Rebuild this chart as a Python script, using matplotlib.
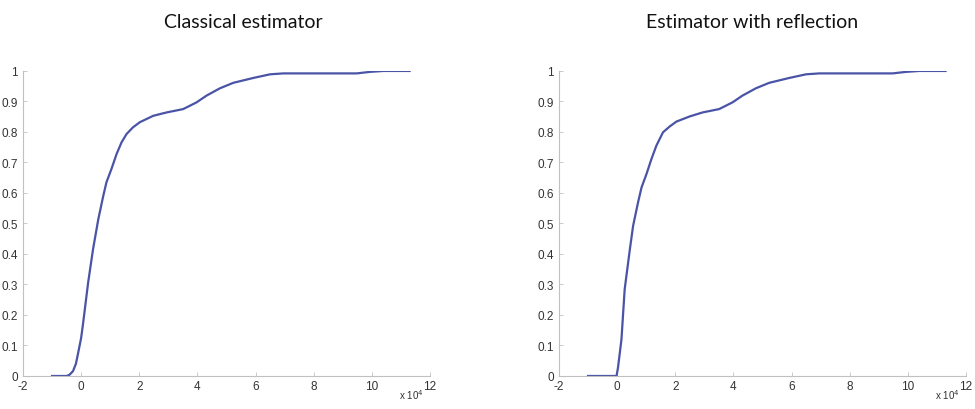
import numpy as np
import matplotlib
matplotlib.use("Agg")
import matplotlib.pyplot as plt

# x in units of 1e4, y = CDF estimate
x_classic = [-1.0, -0.5, -0.4, -0.28, -0.18, -0.1, 0.0, 0.07, 0.24, 0.41, 0.59, 0.76, 0.87, 1.04, 1.22,
             1.39, 1.56, 1.78, 2.02, 2.48, 2.94, 3.51, 3.97, 4.31, 4.77, 5.23, 5.92, 6.5,
             6.96, 9.48, 9.94, 10.4, 11.3]
y_classic = [0.0, 0.0, 0.004, 0.016, 0.04, 0.077, 0.125, 0.175, 0.306, 0.416, 0.514, 0.59, 0.635, 0.678, 0.728,
             0.766, 0.793, 0.815, 0.832, 0.853, 0.864, 0.875, 0.897, 0.919, 0.943, 0.961, 0.977, 0.989,
             0.992, 0.992, 0.997, 1.0, 1.0]

x_reflect = [-1.0, -0.02, 0.03, 0.15, 0.26, 0.44, 0.55, 0.72, 0.84, 1.01, 1.18, 1.35, 1.58,
             1.81, 2.04, 2.5, 2.94, 3.51, 3.97, 4.31, 4.77, 5.23, 5.92, 6.5, 6.96, 9.48, 9.94,
             10.4, 11.3]
y_reflect = [0.0, 0.0, 0.027, 0.12, 0.284, 0.416, 0.492, 0.569, 0.618, 0.662, 0.711, 0.755, 0.799,
             0.818, 0.834, 0.851, 0.864, 0.875, 0.897, 0.919, 0.943, 0.961, 0.977, 0.989, 0.992, 0.992, 0.997,
             1.0, 1.0]

titles = ["Classical estimator", "Estimator with reflection"]
xticks = [-2, 0, 2, 4, 6, 8, 10, 12]
yticks = [0, 0.1, 0.2, 0.3, 0.4, 0.5, 0.6, 0.7, 0.8, 0.9, 1]
ytick_labels = ["0", "0.1", "0.2", "0.3", "0.4", "0.5", "0.6", "0.7", "0.8", "0.9", "1"]

LINE = "#4a54a6"
AXC = "#c0c0c0"

fig = plt.figure(figsize=(9.75, 4.1), dpi=100)
axes_pos = [[0.0236, 0.0805, 0.4174, 0.744], [0.5733, 0.0805, 0.4174, 0.744]]
title_x = [243 / 975, 752 / 975]

for i, (xs, ys) in enumerate([(x_classic, y_classic), (x_reflect, y_reflect)]):
    ax = fig.add_axes(axes_pos[i])
    ax.plot(xs, ys, color=LINE, lw=1.6)
    ax.set_xlim(-2, 12)
    ax.set_ylim(0, 1)
    ax.set_xticks(xticks)
    ax.set_xticklabels([str(t) for t in xticks])
    ax.set_yticks(yticks)
    ax.set_yticklabels(ytick_labels)
    for s in ["top", "right"]:
        ax.spines[s].set_visible(False)
    for s in ["left", "bottom"]:
        ax.spines[s].set_color(AXC)
        ax.spines[s].set_linewidth(0.8)
    ax.tick_params(direction="in", length=3, width=0.6, color=AXC,
                   labelsize=8.5, labelcolor="#333333")
    ax.tick_params(axis="x", pad=3)
    ax.tick_params(axis="y", pad=3.5)
    for lab in ax.get_xticklabels() + ax.get_yticklabels():
        lab.set_family("Liberation Sans")
    ax.text(0.985, -0.082, r"x 10$^{4}$", transform=ax.transAxes, ha="right", va="bottom",
            fontsize=7, family="Liberation Sans", color="#333333")
    fig.text(title_x[i], 1 - 22 / 410, titles[i], ha="center", va="center",
             fontsize=14, family="Lato", color="#111111")

fig.savefig("out.png", dpi=100)
